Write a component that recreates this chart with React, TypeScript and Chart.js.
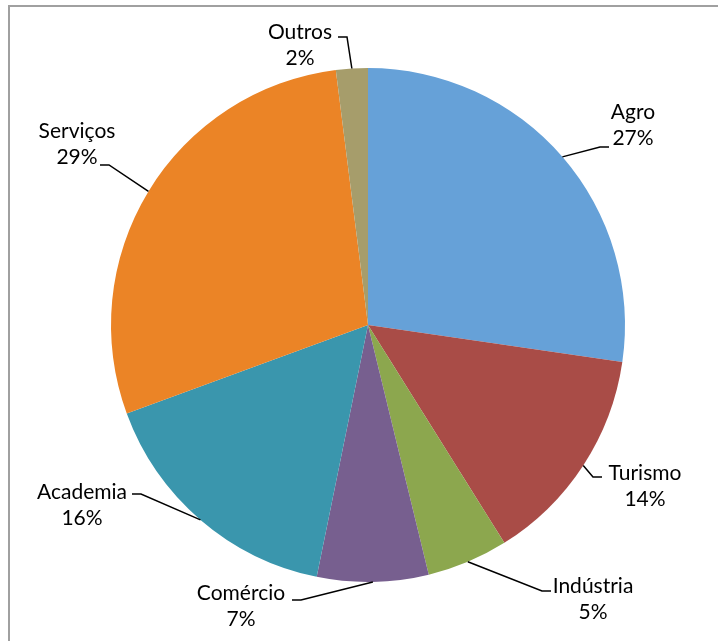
import React, { useEffect, useRef } from "react";
import { Chart, registerables } from "chart.js";

Chart.register(...registerables);

const categories = ["Agro", "Turismo", "Indústria", "Comércio", "Academia", "Serviços", "Outros"];
const shares = [27.3, 13.8, 5.1, 7.0, 16.2, 28.6, 2.0];
const sliceColors = ["#66A1D8", "#A94C47", "#8CA74E", "#775F8F", "#3A96AD", "#EB8426", "#A69D6B"];

// label placement relative to pie centre (px), and leader attach point relative to label centre
const labelPlacement = [
  { dx: 265, dy: -200, ax: -24, ay: 22 },
  { dx: 277, dy: 161, ax: -43, ay: -9 },
  { dx: 225, dy: 274, ax: -42, ay: -8 },
  { dx: -127, dy: 281, ax: 51, ay: -6 },
  { dx: -286, dy: 180, ax: 50, ay: -11 },
  { dx: -291, dy: -181, ax: 23, ay: 21 },
  { dx: -68, dy: -280, ax: 38, ay: -8 },
];

const FONT = "21px Lato, Calibri, 'Noto Sans', sans-serif";

const framePlugin = {
  id: "frame",
  beforeDraw(chart: any) {
    const ctx = chart.ctx;
    ctx.save();
    ctx.fillStyle = "#ffffff";
    ctx.fillRect(0, 0, chart.width, chart.height);
    ctx.strokeStyle = "#A0A0A0";
    ctx.lineWidth = 2;
    ctx.beginPath();
    ctx.moveTo(9, chart.height + 10);
    ctx.lineTo(9, 6);
    ctx.lineTo(chart.width + 10, 6);
    ctx.stroke();
    ctx.restore();
  },
};

const labelPlugin = {
  id: "pieLabels",
  afterDraw(chart: any) {
    const ctx = chart.ctx;
    const meta = chart.getDatasetMeta(0);
    const total = shares.reduce((a, b) => a + b, 0);
    ctx.save();
    ctx.font = FONT;
    ctx.fillStyle = "#000000";
    ctx.strokeStyle = "#000000";
    ctx.lineWidth = 1.5;
    ctx.textAlign = "center";
    ctx.textBaseline = "middle";
    meta.data.forEach((arc: any, i: number) => {
      const p = labelPlacement[i];
      const cx = arc.x + p.dx;
      const cy = arc.y + p.dy;
      const pct = Math.round((shares[i] / total) * 100) + "%";
      ctx.fillText(categories[i], cx, cy - 13);
      ctx.fillText(pct, cx, cy + 13);
      const mid = (arc.startAngle + arc.endAngle) / 2;
      const ex = arc.x + Math.cos(mid) * arc.outerRadius;
      const ey = arc.y + Math.sin(mid) * arc.outerRadius;
      const axp = cx + p.ax;
      const ayp = cy + p.ay;
      const elbowX = axp + (p.ax < 0 ? -9 : 9);
      ctx.beginPath();
      ctx.moveTo(axp, ayp);
      ctx.lineTo(elbowX, ayp);
      ctx.lineTo(ex, ey);
      ctx.stroke();
    });
    ctx.restore();
  },
};

export default function App() {
  const ref = useRef<HTMLCanvasElement | null>(null);
  useEffect(() => {
    if (!ref.current) return;
    const chart = new Chart(ref.current, {
      type: "pie",
      data: {
        labels: categories,
        datasets: [
          {
            data: shares,
            backgroundColor: sliceColors,
            borderWidth: 0,
          },
        ],
      },
      options: {
        responsive: false,
        animation: false,
        layout: { padding: { top: 68, bottom: 59, left: 111, right: 93 } },
        plugins: {
          legend: { display: false },
          tooltip: { enabled: false },
        },
      },
      plugins: [framePlugin, labelPlugin],
    });
    return () => chart.destroy();
  }, []);
  return (
    <div style={{ position: "absolute", left: 0, top: 0, width: 718, height: 641, background: "#fff" }}>
      <canvas ref={ref} width={718} height={641} style={{ display: "block" }} />
    </div>
  );
}
